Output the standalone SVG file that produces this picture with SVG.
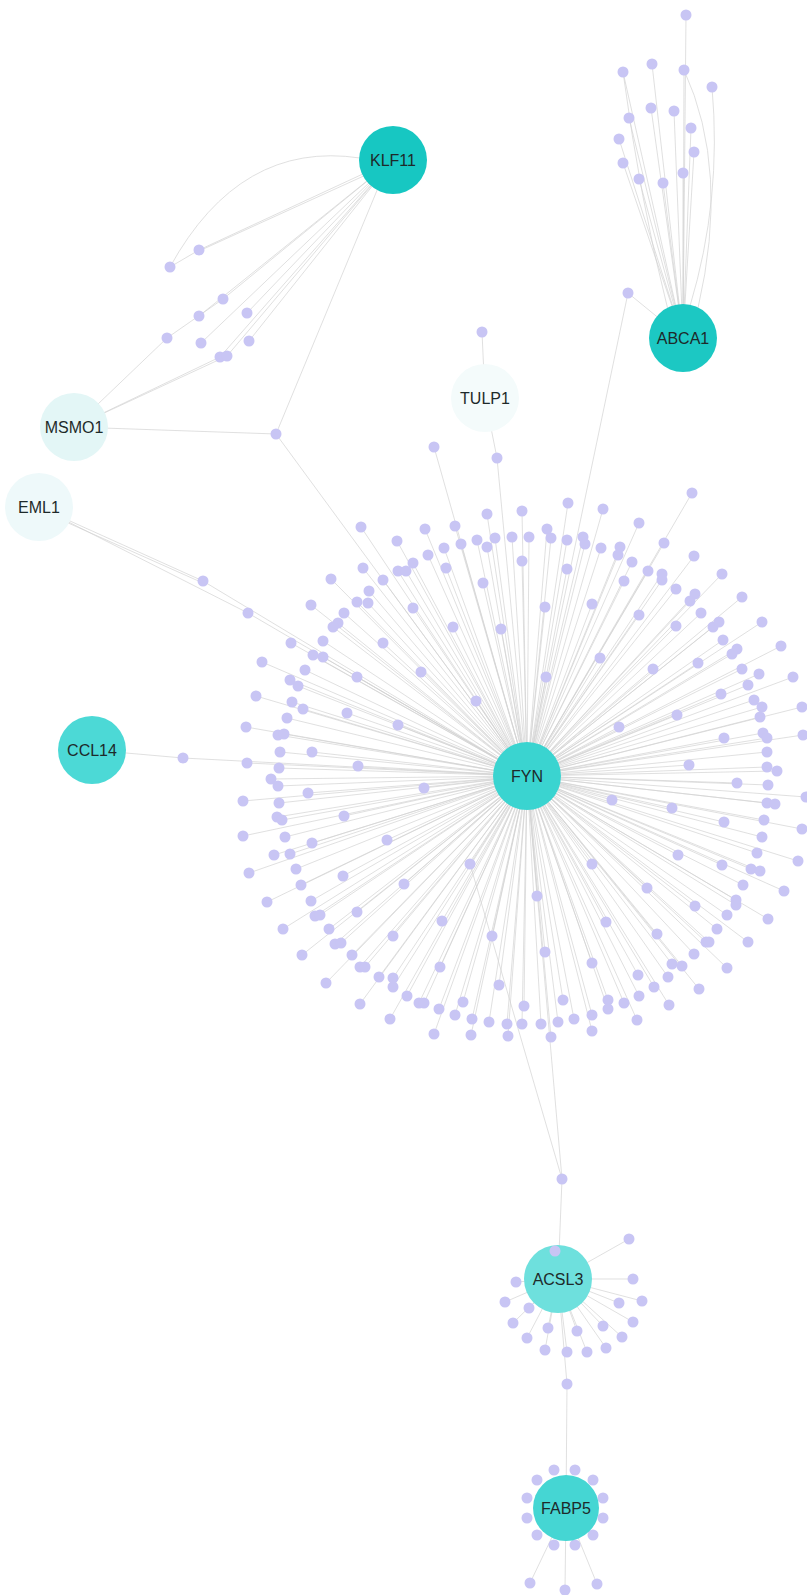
<svg xmlns="http://www.w3.org/2000/svg" width="807" height="1595" viewBox="0 0 807 1595">
<style>
.e line,.e path{stroke:#d2d2d2;stroke-width:0.7;fill:none}
.d circle{fill:#c8c5f4}
.lbl{font-family:"Liberation Sans",Arial,sans-serif;font-size:16px;fill:#1e2a2a;text-anchor:middle;dominant-baseline:central}
</style>
<rect width="807" height="1595" fill="#ffffff"/>
<g id="connectors" class="e">
<!-- KLF11 / MSMO1 -->
<path d="M360 158 Q240 140 170 267"/>
<line x1="393" y1="160" x2="199" y2="250"/>
<line x1="390" y1="164" x2="199" y2="251"/>
<line x1="199" y1="250" x2="170" y2="267"/>
<line x1="393" y1="160" x2="223" y2="299"/>
<line x1="393" y1="160" x2="199" y2="316"/>
<line x1="393" y1="160" x2="247" y2="313"/>
<line x1="393" y1="160" x2="201" y2="343"/>
<line x1="393" y1="160" x2="249" y2="341"/>
<line x1="393" y1="160" x2="220" y2="357"/>
<line x1="393" y1="160" x2="227" y2="356"/>
<line x1="74" y1="427" x2="167" y2="338"/>
<line x1="167" y1="338" x2="223" y2="299"/>
<line x1="74" y1="427" x2="220" y2="357"/>
<line x1="74" y1="427" x2="227" y2="356"/>
<line x1="74" y1="427" x2="276" y2="434"/>
<line x1="276" y1="434" x2="378" y2="188"/>
<line x1="276" y1="434" x2="527" y2="776"/>
<!-- EML1 -->
<line x1="39" y1="507" x2="203" y2="581"/>
<line x1="39" y1="510" x2="203" y2="583"/>
<line x1="203" y1="581" x2="527" y2="776"/>
<line x1="39" y1="507" x2="248" y2="613"/>
<!-- CCL14 -->
<line x1="92" y1="750" x2="183" y2="758"/>
<line x1="183" y1="758" x2="527" y2="776"/>
<!-- TULP1 -->
<line x1="485" y1="398" x2="482" y2="332"/>
<line x1="485" y1="398" x2="497" y2="458"/>
<!-- ABCA1 -->
<line x1="683" y1="338" x2="686" y2="15"/>
<line x1="683" y1="338" x2="652" y2="64"/>
<line x1="683" y1="338" x2="623" y2="72"/>
<line x1="683" y1="338" x2="684" y2="70"/>
<path d="M690 306 Q722 200 712 87"/>
<path d="M698 308 Q730 170 684 70"/>
<line x1="683" y1="338" x2="651" y2="108"/>
<line x1="683" y1="338" x2="674" y2="111"/>
<line x1="683" y1="338" x2="629" y2="118"/>
<line x1="683" y1="338" x2="691" y2="128"/>
<line x1="683" y1="338" x2="619" y2="139"/>
<line x1="683" y1="338" x2="694" y2="152"/>
<line x1="683" y1="338" x2="623" y2="163"/>
<line x1="683" y1="338" x2="683" y2="173"/>
<line x1="683" y1="338" x2="639" y2="179"/>
<line x1="683" y1="338" x2="663" y2="183"/>
<path d="M668 310 Q640 200 623 72"/>
<line x1="683" y1="338" x2="628" y2="293"/>
<line x1="628" y1="293" x2="527" y2="776"/>
<!-- FYN to ACSL3 -->
<line x1="470" y1="864" x2="562" y2="1179"/>
<line x1="527" y1="776" x2="562" y2="1179"/>
<line x1="562" y1="1179" x2="558" y2="1279"/>
<!-- ACSL3 -->
<line x1="558" y1="1279" x2="629" y2="1239"/>
<line x1="558" y1="1279" x2="633" y2="1279"/>
<line x1="558" y1="1279" x2="642" y2="1301"/>
<line x1="558" y1="1279" x2="619" y2="1303"/>
<line x1="558" y1="1279" x2="633" y2="1322"/>
<line x1="558" y1="1279" x2="603" y2="1326"/>
<line x1="558" y1="1279" x2="622" y2="1337"/>
<line x1="558" y1="1279" x2="606" y2="1348"/>
<line x1="558" y1="1279" x2="587" y2="1352"/>
<line x1="558" y1="1279" x2="577" y2="1331"/>
<line x1="558" y1="1279" x2="567" y2="1352"/>
<line x1="558" y1="1279" x2="548" y2="1328"/>
<line x1="558" y1="1279" x2="545" y2="1350"/>
<line x1="558" y1="1279" x2="527" y2="1338"/>
<line x1="558" y1="1279" x2="513" y2="1323"/>
<line x1="558" y1="1279" x2="529" y2="1308"/>
<line x1="558" y1="1279" x2="505" y2="1302"/>
<line x1="558" y1="1279" x2="516" y2="1282"/>
<line x1="558" y1="1279" x2="567" y2="1384"/>
<line x1="567" y1="1384" x2="566" y2="1508"/>
<!-- FABP5 -->
<line x1="566" y1="1508" x2="530" y2="1583"/>
<line x1="566" y1="1508" x2="565" y2="1590"/>
<line x1="566" y1="1508" x2="597" y2="1584"/>
<!-- FYN spokes -->
<line x1="527" y1="776" x2="434" y2="447"/>
<line x1="527" y1="776" x2="497" y2="458"/>
<line x1="527" y1="776" x2="522" y2="511"/>
<line x1="527" y1="776" x2="487" y2="514"/>
<line x1="527" y1="776" x2="455" y2="526"/>
<line x1="527" y1="776" x2="425" y2="529"/>
<line x1="527" y1="776" x2="361" y2="527"/>
<line x1="527" y1="776" x2="397" y2="541"/>
<line x1="527" y1="776" x2="461" y2="544"/>
<line x1="527" y1="776" x2="477" y2="540"/>
<line x1="527" y1="776" x2="495" y2="538"/>
<line x1="527" y1="776" x2="512" y2="537"/>
<line x1="527" y1="776" x2="487" y2="547"/>
<line x1="527" y1="776" x2="444" y2="548"/>
<line x1="527" y1="776" x2="428" y2="555"/>
<line x1="527" y1="776" x2="413" y2="563"/>
<line x1="527" y1="776" x2="522" y2="561"/>
<line x1="527" y1="776" x2="363" y2="568"/>
<line x1="527" y1="776" x2="398" y2="571"/>
<line x1="527" y1="776" x2="406" y2="571"/>
<line x1="527" y1="776" x2="446" y2="568"/>
<line x1="527" y1="776" x2="383" y2="580"/>
<line x1="527" y1="776" x2="331" y2="579"/>
<line x1="527" y1="776" x2="369" y2="591"/>
<line x1="527" y1="776" x2="483" y2="583"/>
<line x1="527" y1="776" x2="357" y2="602"/>
<line x1="527" y1="776" x2="368" y2="603"/>
<line x1="527" y1="776" x2="413" y2="608"/>
<line x1="527" y1="776" x2="311" y2="605"/>
<line x1="527" y1="776" x2="344" y2="613"/>
<line x1="527" y1="776" x2="248" y2="613"/>
<line x1="527" y1="776" x2="338" y2="623"/>
<line x1="527" y1="776" x2="333" y2="627"/>
<line x1="527" y1="776" x2="453" y2="627"/>
<line x1="527" y1="776" x2="501" y2="629"/>
<line x1="527" y1="776" x2="383" y2="643"/>
<line x1="527" y1="776" x2="323" y2="641"/>
<line x1="527" y1="776" x2="291" y2="643"/>
<line x1="527" y1="776" x2="313" y2="655"/>
<line x1="527" y1="776" x2="323" y2="657"/>
<line x1="527" y1="776" x2="262" y2="662"/>
<line x1="527" y1="776" x2="421" y2="672"/>
<line x1="527" y1="776" x2="305" y2="670"/>
<line x1="527" y1="776" x2="357" y2="677"/>
<line x1="527" y1="776" x2="290" y2="680"/>
<line x1="527" y1="776" x2="298" y2="686"/>
<line x1="527" y1="776" x2="256" y2="696"/>
<line x1="527" y1="776" x2="476" y2="701"/>
<line x1="527" y1="776" x2="292" y2="702"/>
<line x1="527" y1="776" x2="303" y2="709"/>
<line x1="527" y1="776" x2="347" y2="713"/>
<line x1="527" y1="776" x2="287" y2="718"/>
<line x1="527" y1="776" x2="246" y2="727"/>
<line x1="527" y1="776" x2="398" y2="725"/>
<line x1="527" y1="776" x2="278" y2="735"/>
<line x1="527" y1="776" x2="284" y2="734"/>
<line x1="527" y1="776" x2="312" y2="752"/>
<line x1="527" y1="776" x2="280" y2="752"/>
<line x1="527" y1="776" x2="692" y2="493"/>
<line x1="527" y1="776" x2="568" y2="503"/>
<line x1="527" y1="776" x2="603" y2="509"/>
<line x1="527" y1="776" x2="639" y2="523"/>
<line x1="527" y1="776" x2="547" y2="529"/>
<line x1="527" y1="776" x2="529" y2="537"/>
<line x1="527" y1="776" x2="551" y2="538"/>
<line x1="527" y1="776" x2="567" y2="540"/>
<line x1="527" y1="776" x2="583" y2="537"/>
<line x1="527" y1="776" x2="585" y2="544"/>
<line x1="527" y1="776" x2="601" y2="548"/>
<line x1="527" y1="776" x2="620" y2="547"/>
<line x1="527" y1="776" x2="618" y2="555"/>
<line x1="527" y1="776" x2="664" y2="543"/>
<line x1="527" y1="776" x2="567" y2="569"/>
<line x1="527" y1="776" x2="632" y2="562"/>
<line x1="527" y1="776" x2="648" y2="571"/>
<line x1="527" y1="776" x2="662" y2="574"/>
<line x1="527" y1="776" x2="662" y2="580"/>
<line x1="527" y1="776" x2="694" y2="556"/>
<line x1="527" y1="776" x2="722" y2="574"/>
<line x1="527" y1="776" x2="624" y2="581"/>
<line x1="527" y1="776" x2="676" y2="589"/>
<line x1="527" y1="776" x2="695" y2="594"/>
<line x1="527" y1="776" x2="690" y2="601"/>
<line x1="527" y1="776" x2="742" y2="597"/>
<line x1="527" y1="776" x2="545" y2="607"/>
<line x1="527" y1="776" x2="592" y2="604"/>
<line x1="527" y1="776" x2="639" y2="615"/>
<line x1="527" y1="776" x2="701" y2="613"/>
<line x1="527" y1="776" x2="676" y2="626"/>
<line x1="527" y1="776" x2="713" y2="627"/>
<line x1="527" y1="776" x2="719" y2="622"/>
<line x1="527" y1="776" x2="762" y2="622"/>
<line x1="527" y1="776" x2="723" y2="640"/>
<line x1="527" y1="776" x2="737" y2="649"/>
<line x1="527" y1="776" x2="732" y2="654"/>
<line x1="527" y1="776" x2="781" y2="646"/>
<line x1="527" y1="776" x2="600" y2="658"/>
<line x1="527" y1="776" x2="698" y2="663"/>
<line x1="527" y1="776" x2="653" y2="669"/>
<line x1="527" y1="776" x2="742" y2="669"/>
<line x1="527" y1="776" x2="759" y2="674"/>
<line x1="527" y1="776" x2="793" y2="677"/>
<line x1="527" y1="776" x2="748" y2="685"/>
<line x1="527" y1="776" x2="721" y2="694"/>
<line x1="527" y1="776" x2="546" y2="677"/>
<line x1="527" y1="776" x2="754" y2="700"/>
<line x1="527" y1="776" x2="762" y2="707"/>
<line x1="527" y1="776" x2="802" y2="707"/>
<line x1="527" y1="776" x2="760" y2="717"/>
<line x1="527" y1="776" x2="677" y2="715"/>
<line x1="527" y1="776" x2="619" y2="727"/>
<line x1="527" y1="776" x2="724" y2="738"/>
<line x1="527" y1="776" x2="763" y2="733"/>
<line x1="527" y1="776" x2="767" y2="738"/>
<line x1="527" y1="776" x2="803" y2="735"/>
<line x1="527" y1="776" x2="767" y2="752"/>
<line x1="527" y1="776" x2="247" y2="763"/>
<line x1="527" y1="776" x2="279" y2="768"/>
<line x1="527" y1="776" x2="358" y2="766"/>
<line x1="527" y1="776" x2="271" y2="779"/>
<line x1="527" y1="776" x2="278" y2="786"/>
<line x1="527" y1="776" x2="424" y2="788"/>
<line x1="527" y1="776" x2="308" y2="793"/>
<line x1="527" y1="776" x2="243" y2="801"/>
<line x1="527" y1="776" x2="279" y2="803"/>
<line x1="527" y1="776" x2="277" y2="817"/>
<line x1="527" y1="776" x2="282" y2="820"/>
<line x1="527" y1="776" x2="344" y2="816"/>
<line x1="527" y1="776" x2="243" y2="836"/>
<line x1="527" y1="776" x2="285" y2="837"/>
<line x1="527" y1="776" x2="312" y2="843"/>
<line x1="527" y1="776" x2="387" y2="840"/>
<line x1="527" y1="776" x2="274" y2="855"/>
<line x1="527" y1="776" x2="290" y2="854"/>
<line x1="527" y1="776" x2="249" y2="873"/>
<line x1="527" y1="776" x2="296" y2="869"/>
<line x1="527" y1="776" x2="343" y2="876"/>
<line x1="527" y1="776" x2="470" y2="864"/>
<line x1="527" y1="776" x2="301" y2="885"/>
<line x1="527" y1="776" x2="404" y2="884"/>
<line x1="527" y1="776" x2="267" y2="902"/>
<line x1="527" y1="776" x2="311" y2="901"/>
<line x1="527" y1="776" x2="357" y2="912"/>
<line x1="527" y1="776" x2="315" y2="916"/>
<line x1="527" y1="776" x2="320" y2="915"/>
<line x1="527" y1="776" x2="442" y2="921"/>
<line x1="527" y1="776" x2="283" y2="929"/>
<line x1="527" y1="776" x2="329" y2="929"/>
<line x1="527" y1="776" x2="393" y2="936"/>
<line x1="527" y1="776" x2="492" y2="936"/>
<line x1="527" y1="776" x2="335" y2="944"/>
<line x1="527" y1="776" x2="341" y2="943"/>
<line x1="527" y1="776" x2="302" y2="955"/>
<line x1="527" y1="776" x2="352" y2="955"/>
<line x1="527" y1="776" x2="360" y2="967"/>
<line x1="527" y1="776" x2="365" y2="967"/>
<line x1="527" y1="776" x2="440" y2="967"/>
<line x1="527" y1="776" x2="326" y2="983"/>
<line x1="527" y1="776" x2="379" y2="977"/>
<line x1="527" y1="776" x2="393" y2="978"/>
<line x1="527" y1="776" x2="393" y2="987"/>
<line x1="527" y1="776" x2="499" y2="985"/>
<line x1="527" y1="776" x2="360" y2="1004"/>
<line x1="527" y1="776" x2="407" y2="996"/>
<line x1="527" y1="776" x2="419" y2="1003"/>
<line x1="527" y1="776" x2="424" y2="1003"/>
<line x1="527" y1="776" x2="463" y2="1002"/>
<line x1="527" y1="776" x2="439" y2="1009"/>
<line x1="527" y1="776" x2="455" y2="1015"/>
<line x1="527" y1="776" x2="472" y2="1019"/>
<line x1="527" y1="776" x2="489" y2="1022"/>
<line x1="527" y1="776" x2="507" y2="1024"/>
<line x1="527" y1="776" x2="522" y2="1024"/>
<line x1="527" y1="776" x2="390" y2="1019"/>
<line x1="527" y1="776" x2="434" y2="1034"/>
<line x1="527" y1="776" x2="471" y2="1035"/>
<line x1="527" y1="776" x2="508" y2="1036"/>
<line x1="527" y1="776" x2="524" y2="1006"/>
<line x1="527" y1="776" x2="689" y2="765"/>
<line x1="527" y1="776" x2="767" y2="767"/>
<line x1="527" y1="776" x2="777" y2="771"/>
<line x1="527" y1="776" x2="737" y2="783"/>
<line x1="527" y1="776" x2="768" y2="785"/>
<line x1="527" y1="776" x2="612" y2="800"/>
<line x1="527" y1="776" x2="672" y2="808"/>
<line x1="527" y1="776" x2="767" y2="803"/>
<line x1="527" y1="776" x2="775" y2="804"/>
<line x1="527" y1="776" x2="806" y2="797"/>
<line x1="527" y1="776" x2="724" y2="822"/>
<line x1="527" y1="776" x2="764" y2="820"/>
<line x1="527" y1="776" x2="802" y2="829"/>
<line x1="527" y1="776" x2="762" y2="837"/>
<line x1="527" y1="776" x2="678" y2="855"/>
<line x1="527" y1="776" x2="757" y2="853"/>
<line x1="527" y1="776" x2="722" y2="865"/>
<line x1="527" y1="776" x2="751" y2="869"/>
<line x1="527" y1="776" x2="760" y2="871"/>
<line x1="527" y1="776" x2="798" y2="861"/>
<line x1="527" y1="776" x2="592" y2="864"/>
<line x1="527" y1="776" x2="743" y2="885"/>
<line x1="527" y1="776" x2="647" y2="888"/>
<line x1="527" y1="776" x2="784" y2="891"/>
<line x1="527" y1="776" x2="537" y2="896"/>
<line x1="527" y1="776" x2="695" y2="906"/>
<line x1="527" y1="776" x2="736" y2="900"/>
<line x1="527" y1="776" x2="736" y2="905"/>
<line x1="527" y1="776" x2="727" y2="915"/>
<line x1="527" y1="776" x2="768" y2="919"/>
<line x1="527" y1="776" x2="606" y2="922"/>
<line x1="527" y1="776" x2="717" y2="929"/>
<line x1="527" y1="776" x2="657" y2="934"/>
<line x1="527" y1="776" x2="748" y2="942"/>
<line x1="527" y1="776" x2="706" y2="942"/>
<line x1="527" y1="776" x2="709" y2="942"/>
<line x1="527" y1="776" x2="694" y2="954"/>
<line x1="527" y1="776" x2="545" y2="952"/>
<line x1="527" y1="776" x2="592" y2="963"/>
<line x1="527" y1="776" x2="672" y2="964"/>
<line x1="527" y1="776" x2="682" y2="966"/>
<line x1="527" y1="776" x2="727" y2="968"/>
<line x1="527" y1="776" x2="638" y2="975"/>
<line x1="527" y1="776" x2="668" y2="977"/>
<line x1="527" y1="776" x2="654" y2="987"/>
<line x1="527" y1="776" x2="699" y2="989"/>
<line x1="527" y1="776" x2="639" y2="996"/>
<line x1="527" y1="776" x2="624" y2="1003"/>
<line x1="527" y1="776" x2="669" y2="1005"/>
<line x1="527" y1="776" x2="563" y2="1000"/>
<line x1="527" y1="776" x2="608" y2="1000"/>
<line x1="527" y1="776" x2="608" y2="1009"/>
<line x1="527" y1="776" x2="592" y2="1015"/>
<line x1="527" y1="776" x2="574" y2="1019"/>
<line x1="527" y1="776" x2="558" y2="1022"/>
<line x1="527" y1="776" x2="541" y2="1024"/>
<line x1="527" y1="776" x2="551" y2="1037"/>
<line x1="527" y1="776" x2="637" y2="1020"/>
<line x1="527" y1="776" x2="592" y2="1031"/>
</g>
<g id="satellites" class="d">
<circle cx="199" cy="250" r="5.5"/><circle cx="170" cy="267" r="5.5"/><circle cx="223" cy="299" r="5.5"/><circle cx="199" cy="316" r="5.5"/><circle cx="247" cy="313" r="5.5"/><circle cx="167" cy="338" r="5.5"/><circle cx="201" cy="343" r="5.5"/><circle cx="249" cy="341" r="5.5"/><circle cx="220" cy="357" r="5.5"/><circle cx="227" cy="356" r="5.5"/>
<circle cx="276" cy="434" r="5.5"/><circle cx="203" cy="581" r="5.5"/><circle cx="183" cy="758" r="5.5"/><circle cx="482" cy="332" r="5.5"/>
<circle cx="686" cy="15" r="5.5"/><circle cx="652" cy="64" r="5.5"/><circle cx="623" cy="72" r="5.5"/><circle cx="684" cy="70" r="5.5"/><circle cx="712" cy="87" r="5.5"/><circle cx="651" cy="108" r="5.5"/><circle cx="674" cy="111" r="5.5"/><circle cx="629" cy="118" r="5.5"/><circle cx="691" cy="128" r="5.5"/><circle cx="619" cy="139" r="5.5"/><circle cx="694" cy="152" r="5.5"/><circle cx="623" cy="163" r="5.5"/><circle cx="683" cy="173" r="5.5"/><circle cx="639" cy="179" r="5.5"/><circle cx="663" cy="183" r="5.5"/><circle cx="628" cy="293" r="5.5"/>
<circle cx="562" cy="1179" r="5.5"/><circle cx="629" cy="1239" r="5.5"/><circle cx="633" cy="1279" r="5.5"/><circle cx="642" cy="1301" r="5.5"/><circle cx="619" cy="1303" r="5.5"/><circle cx="633" cy="1322" r="5.5"/><circle cx="603" cy="1326" r="5.5"/><circle cx="622" cy="1337" r="5.5"/><circle cx="606" cy="1348" r="5.5"/><circle cx="587" cy="1352" r="5.5"/><circle cx="577" cy="1331" r="5.5"/><circle cx="567" cy="1352" r="5.5"/><circle cx="548" cy="1328" r="5.5"/><circle cx="545" cy="1350" r="5.5"/><circle cx="527" cy="1338" r="5.5"/><circle cx="513" cy="1323" r="5.5"/><circle cx="529" cy="1308" r="5.5"/><circle cx="505" cy="1302" r="5.5"/><circle cx="516" cy="1282" r="5.5"/><circle cx="567" cy="1384" r="5.5"/>
<circle cx="554" cy="1470" r="5.5"/><circle cx="575" cy="1470" r="5.5"/><circle cx="537" cy="1480" r="5.5"/><circle cx="593" cy="1480" r="5.5"/><circle cx="527" cy="1498" r="5.5"/><circle cx="603" cy="1498" r="5.5"/><circle cx="527" cy="1518" r="5.5"/><circle cx="603" cy="1518" r="5.5"/><circle cx="537" cy="1535" r="5.5"/><circle cx="593" cy="1535" r="5.5"/><circle cx="554" cy="1545" r="5.5"/><circle cx="575" cy="1545" r="5.5"/><circle cx="530" cy="1583" r="5.5"/><circle cx="565" cy="1590" r="5.5"/><circle cx="597" cy="1584" r="5.5"/>
<circle cx="434" cy="447" r="5.5"/><circle cx="497" cy="458" r="5.5"/><circle cx="522" cy="511" r="5.5"/><circle cx="487" cy="514" r="5.5"/><circle cx="455" cy="526" r="5.5"/><circle cx="425" cy="529" r="5.5"/><circle cx="361" cy="527" r="5.5"/><circle cx="397" cy="541" r="5.5"/><circle cx="461" cy="544" r="5.5"/><circle cx="477" cy="540" r="5.5"/><circle cx="495" cy="538" r="5.5"/><circle cx="512" cy="537" r="5.5"/><circle cx="487" cy="547" r="5.5"/><circle cx="444" cy="548" r="5.5"/><circle cx="428" cy="555" r="5.5"/><circle cx="413" cy="563" r="5.5"/><circle cx="522" cy="561" r="5.5"/><circle cx="363" cy="568" r="5.5"/><circle cx="398" cy="571" r="5.5"/><circle cx="406" cy="571" r="5.5"/><circle cx="446" cy="568" r="5.5"/><circle cx="383" cy="580" r="5.5"/><circle cx="331" cy="579" r="5.5"/><circle cx="369" cy="591" r="5.5"/><circle cx="483" cy="583" r="5.5"/><circle cx="357" cy="602" r="5.5"/><circle cx="368" cy="603" r="5.5"/><circle cx="413" cy="608" r="5.5"/><circle cx="311" cy="605" r="5.5"/><circle cx="344" cy="613" r="5.5"/><circle cx="248" cy="613" r="5.5"/><circle cx="338" cy="623" r="5.5"/><circle cx="333" cy="627" r="5.5"/><circle cx="453" cy="627" r="5.5"/><circle cx="501" cy="629" r="5.5"/><circle cx="383" cy="643" r="5.5"/><circle cx="323" cy="641" r="5.5"/><circle cx="291" cy="643" r="5.5"/><circle cx="313" cy="655" r="5.5"/><circle cx="323" cy="657" r="5.5"/><circle cx="262" cy="662" r="5.5"/><circle cx="421" cy="672" r="5.5"/><circle cx="305" cy="670" r="5.5"/><circle cx="357" cy="677" r="5.5"/><circle cx="290" cy="680" r="5.5"/><circle cx="298" cy="686" r="5.5"/><circle cx="256" cy="696" r="5.5"/><circle cx="476" cy="701" r="5.5"/><circle cx="292" cy="702" r="5.5"/><circle cx="303" cy="709" r="5.5"/><circle cx="347" cy="713" r="5.5"/><circle cx="287" cy="718" r="5.5"/><circle cx="246" cy="727" r="5.5"/><circle cx="398" cy="725" r="5.5"/><circle cx="278" cy="735" r="5.5"/><circle cx="284" cy="734" r="5.5"/><circle cx="312" cy="752" r="5.5"/><circle cx="280" cy="752" r="5.5"/>
<circle cx="692" cy="493" r="5.5"/><circle cx="568" cy="503" r="5.5"/><circle cx="603" cy="509" r="5.5"/><circle cx="639" cy="523" r="5.5"/><circle cx="547" cy="529" r="5.5"/><circle cx="529" cy="537" r="5.5"/><circle cx="551" cy="538" r="5.5"/><circle cx="567" cy="540" r="5.5"/><circle cx="583" cy="537" r="5.5"/><circle cx="585" cy="544" r="5.5"/><circle cx="601" cy="548" r="5.5"/><circle cx="620" cy="547" r="5.5"/><circle cx="618" cy="555" r="5.5"/><circle cx="664" cy="543" r="5.5"/><circle cx="567" cy="569" r="5.5"/><circle cx="632" cy="562" r="5.5"/><circle cx="648" cy="571" r="5.5"/><circle cx="662" cy="574" r="5.5"/><circle cx="662" cy="580" r="5.5"/><circle cx="694" cy="556" r="5.5"/><circle cx="722" cy="574" r="5.5"/><circle cx="624" cy="581" r="5.5"/><circle cx="676" cy="589" r="5.5"/><circle cx="695" cy="594" r="5.5"/><circle cx="690" cy="601" r="5.5"/><circle cx="742" cy="597" r="5.5"/><circle cx="545" cy="607" r="5.5"/><circle cx="592" cy="604" r="5.5"/><circle cx="639" cy="615" r="5.5"/><circle cx="701" cy="613" r="5.5"/><circle cx="676" cy="626" r="5.5"/><circle cx="713" cy="627" r="5.5"/><circle cx="719" cy="622" r="5.5"/><circle cx="762" cy="622" r="5.5"/><circle cx="723" cy="640" r="5.5"/><circle cx="737" cy="649" r="5.5"/><circle cx="732" cy="654" r="5.5"/><circle cx="781" cy="646" r="5.5"/><circle cx="600" cy="658" r="5.5"/><circle cx="698" cy="663" r="5.5"/><circle cx="653" cy="669" r="5.5"/><circle cx="742" cy="669" r="5.5"/><circle cx="759" cy="674" r="5.5"/><circle cx="793" cy="677" r="5.5"/><circle cx="748" cy="685" r="5.5"/><circle cx="721" cy="694" r="5.5"/><circle cx="546" cy="677" r="5.5"/><circle cx="754" cy="700" r="5.5"/><circle cx="762" cy="707" r="5.5"/><circle cx="802" cy="707" r="5.5"/><circle cx="760" cy="717" r="5.5"/><circle cx="677" cy="715" r="5.5"/><circle cx="619" cy="727" r="5.5"/><circle cx="724" cy="738" r="5.5"/><circle cx="763" cy="733" r="5.5"/><circle cx="767" cy="738" r="5.5"/><circle cx="803" cy="735" r="5.5"/><circle cx="767" cy="752" r="5.5"/>
<circle cx="247" cy="763" r="5.5"/><circle cx="279" cy="768" r="5.5"/><circle cx="358" cy="766" r="5.5"/><circle cx="271" cy="779" r="5.5"/><circle cx="278" cy="786" r="5.5"/><circle cx="424" cy="788" r="5.5"/><circle cx="308" cy="793" r="5.5"/><circle cx="243" cy="801" r="5.5"/><circle cx="279" cy="803" r="5.5"/><circle cx="277" cy="817" r="5.5"/><circle cx="282" cy="820" r="5.5"/><circle cx="344" cy="816" r="5.5"/><circle cx="243" cy="836" r="5.5"/><circle cx="285" cy="837" r="5.5"/><circle cx="312" cy="843" r="5.5"/><circle cx="387" cy="840" r="5.5"/><circle cx="274" cy="855" r="5.5"/><circle cx="290" cy="854" r="5.5"/><circle cx="249" cy="873" r="5.5"/><circle cx="296" cy="869" r="5.5"/><circle cx="343" cy="876" r="5.5"/><circle cx="470" cy="864" r="5.5"/><circle cx="301" cy="885" r="5.5"/><circle cx="404" cy="884" r="5.5"/><circle cx="267" cy="902" r="5.5"/><circle cx="311" cy="901" r="5.5"/><circle cx="357" cy="912" r="5.5"/><circle cx="315" cy="916" r="5.5"/><circle cx="320" cy="915" r="5.5"/><circle cx="442" cy="921" r="5.5"/><circle cx="283" cy="929" r="5.5"/><circle cx="329" cy="929" r="5.5"/><circle cx="393" cy="936" r="5.5"/><circle cx="492" cy="936" r="5.5"/><circle cx="335" cy="944" r="5.5"/><circle cx="341" cy="943" r="5.5"/><circle cx="302" cy="955" r="5.5"/><circle cx="352" cy="955" r="5.5"/><circle cx="360" cy="967" r="5.5"/><circle cx="365" cy="967" r="5.5"/><circle cx="440" cy="967" r="5.5"/><circle cx="326" cy="983" r="5.5"/><circle cx="379" cy="977" r="5.5"/><circle cx="393" cy="978" r="5.5"/><circle cx="393" cy="987" r="5.5"/><circle cx="499" cy="985" r="5.5"/><circle cx="360" cy="1004" r="5.5"/><circle cx="407" cy="996" r="5.5"/><circle cx="419" cy="1003" r="5.5"/><circle cx="424" cy="1003" r="5.5"/><circle cx="463" cy="1002" r="5.5"/><circle cx="439" cy="1009" r="5.5"/><circle cx="455" cy="1015" r="5.5"/><circle cx="472" cy="1019" r="5.5"/><circle cx="489" cy="1022" r="5.5"/><circle cx="507" cy="1024" r="5.5"/><circle cx="522" cy="1024" r="5.5"/><circle cx="390" cy="1019" r="5.5"/><circle cx="434" cy="1034" r="5.5"/><circle cx="471" cy="1035" r="5.5"/><circle cx="508" cy="1036" r="5.5"/><circle cx="524" cy="1006" r="5.5"/>
<circle cx="689" cy="765" r="5.5"/><circle cx="767" cy="767" r="5.5"/><circle cx="777" cy="771" r="5.5"/><circle cx="737" cy="783" r="5.5"/><circle cx="768" cy="785" r="5.5"/><circle cx="612" cy="800" r="5.5"/><circle cx="672" cy="808" r="5.5"/><circle cx="767" cy="803" r="5.5"/><circle cx="775" cy="804" r="5.5"/><circle cx="806" cy="797" r="5.5"/><circle cx="724" cy="822" r="5.5"/><circle cx="764" cy="820" r="5.5"/><circle cx="802" cy="829" r="5.5"/><circle cx="762" cy="837" r="5.5"/><circle cx="678" cy="855" r="5.5"/><circle cx="757" cy="853" r="5.5"/><circle cx="722" cy="865" r="5.5"/><circle cx="751" cy="869" r="5.5"/><circle cx="760" cy="871" r="5.5"/><circle cx="798" cy="861" r="5.5"/><circle cx="592" cy="864" r="5.5"/><circle cx="743" cy="885" r="5.5"/><circle cx="647" cy="888" r="5.5"/><circle cx="784" cy="891" r="5.5"/><circle cx="537" cy="896" r="5.5"/><circle cx="695" cy="906" r="5.5"/><circle cx="736" cy="900" r="5.5"/><circle cx="736" cy="905" r="5.5"/><circle cx="727" cy="915" r="5.5"/><circle cx="768" cy="919" r="5.5"/><circle cx="606" cy="922" r="5.5"/><circle cx="717" cy="929" r="5.5"/><circle cx="657" cy="934" r="5.5"/><circle cx="748" cy="942" r="5.5"/><circle cx="706" cy="942" r="5.5"/><circle cx="709" cy="942" r="5.5"/><circle cx="694" cy="954" r="5.5"/><circle cx="545" cy="952" r="5.5"/><circle cx="592" cy="963" r="5.5"/><circle cx="672" cy="964" r="5.5"/><circle cx="682" cy="966" r="5.5"/><circle cx="727" cy="968" r="5.5"/><circle cx="638" cy="975" r="5.5"/><circle cx="668" cy="977" r="5.5"/><circle cx="654" cy="987" r="5.5"/><circle cx="699" cy="989" r="5.5"/><circle cx="639" cy="996" r="5.5"/><circle cx="624" cy="1003" r="5.5"/><circle cx="669" cy="1005" r="5.5"/><circle cx="563" cy="1000" r="5.5"/><circle cx="608" cy="1000" r="5.5"/><circle cx="608" cy="1009" r="5.5"/><circle cx="592" cy="1015" r="5.5"/><circle cx="574" cy="1019" r="5.5"/><circle cx="558" cy="1022" r="5.5"/><circle cx="541" cy="1024" r="5.5"/><circle cx="551" cy="1037" r="5.5"/><circle cx="637" cy="1020" r="5.5"/><circle cx="592" cy="1031" r="5.5"/>
</g>
<g id="KLF11"><circle cx="393" cy="160" r="34" fill="#17c7c2"/><text class="lbl" x="393" y="160">KLF11</text></g>
<g id="ABCA1"><circle cx="683" cy="338" r="34" fill="#1cc8c3"/><text class="lbl" x="683" y="338">ABCA1</text></g>
<g id="MSMO1"><circle cx="74" cy="427" r="34" fill="#e3f6f6"/><text class="lbl" x="74" y="427">MSMO1</text></g>
<g id="EML1"><circle cx="39" cy="507" r="34" fill="#eef9fa"/><text class="lbl" x="39" y="507">EML1</text></g>
<g id="TULP1"><circle cx="485" cy="398" r="34" fill="#f4fbfb"/><text class="lbl" x="485" y="398">TULP1</text></g>
<g id="CCL14"><circle cx="92" cy="750" r="34" fill="#4cd9d6"/><text class="lbl" x="92" y="750">CCL14</text></g>
<g id="FYN"><circle cx="527" cy="776" r="34" fill="#3ad4d0"/><text class="lbl" x="527" y="776">FYN</text></g>
<g id="ACSL3"><circle cx="558" cy="1279" r="34" fill="#6ee0dd"/><circle cx="555" cy="1251" r="5.5" fill="#c8c5f4"/><text class="lbl" x="558" y="1279">ACSL3</text></g>
<g id="FABP5"><circle cx="566" cy="1508" r="33" fill="#45d6d3"/><text class="lbl" x="566" y="1508">FABP5</text></g>
</svg>
